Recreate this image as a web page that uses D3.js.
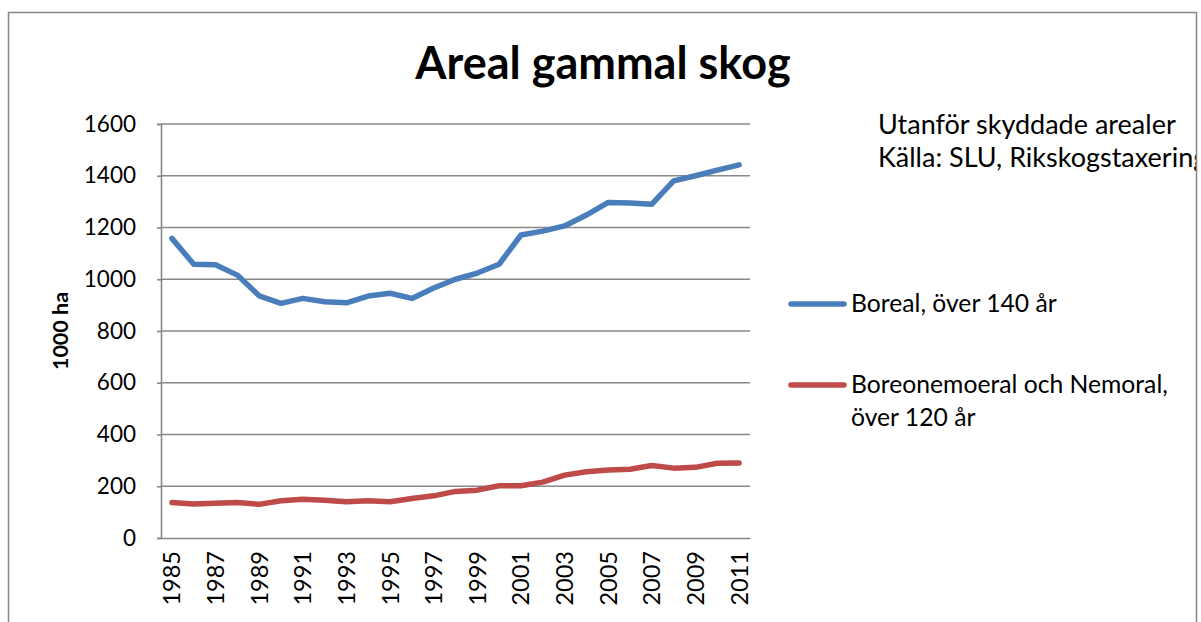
<!DOCTYPE html>
<html><head><meta charset="utf-8">
<script src="https://cdn.jsdelivr.net/npm/d3@7"></script>
<style>
html,body{margin:0;padding:0;background:#fff;}
svg{display:block;}
text{font-family:Lato,"Open Sans",sans-serif;fill:#000;}
</style></head>
<body>
<svg id="c" width="1201" height="622"></svg>
<script>
const years = [1985,1986,1987,1988,1989,1990,1991,1992,1993,1994,1995,1996,1997,1998,1999,2000,2001,2002,2003,2004,2005,2006,2007,2008,2009,2010,2011];
const boreal = [1158,1058,1056,1016,936,907,926,913,909,935,946,926,966,1000,1024,1058,1171,1186,1206,1248,1297,1295,1290,1380,1400,1422,1442];
const boreonemoral = [137,131,134,137,130,144,150,146,140,144,140,153,163,180,185,202,202,216,243,256,263,266,280,270,273,289,290];
const yTicks = [0,200,400,600,800,1000,1200,1400,1600];
const xTickYears = [1985,1987,1989,1991,1993,1995,1997,1999,2001,2003,2005,2007,2009,2011];
const seriesNames = ["Boreal, över 140 år", ["Boreonemoeral och Nemoral,", "över 120 år"]];
const colors = ["#4a7ebb", "#be4b48"];
const titleText = "Areal gammal skog";
const yLabel = "1000 ha";
const notes = ["Utanför skyddade arealer", "Källa: SLU, Rikskogstaxering"];

(function(){
const svg = d3.select("#c");
const W = 1201, H = 622;
const pL = 161, pR = 750, pT = 124, pB = 538;
const FONT = "Lato,'Open Sans',sans-serif";

svg.append("defs").append("clipPath").attr("id","frame")
  .append("rect").attr("x",8).attr("y",12).attr("width",1189).attr("height",H);
const g0 = svg.append("g").attr("clip-path","url(#frame)");

const x = d3.scaleBand().domain(years).range([pL, pR]);
const y = d3.scaleLinear().domain([0,1600]).range([pB, pT]);
const cx = d => x(d) + x.bandwidth()/2;

g0.append("g").selectAll("line").data(yTicks.filter(d=>d>0)).join("line")
  .attr("x1",pL).attr("x2",pR).attr("y1",d=>y(d)).attr("y2",d=>y(d))
  .attr("stroke","#888").attr("stroke-width",1.6);

const yAxis = g0.append("g").attr("transform",`translate(${pL},0)`)
  .call(d3.axisLeft(y).tickValues(yTicks).tickSize(4).tickPadding(21).tickFormat(d3.format("d")));
yAxis.select(".domain").attr("stroke","#888").attr("stroke-width",1.6);
yAxis.selectAll(".tick line").attr("stroke","#888").attr("stroke-width",1.6);
yAxis.selectAll(".tick text").attr("font-size",22.5).attr("font-family",FONT).attr("fill","#000");

const xAxis = g0.append("g").attr("transform",`translate(0,${pB})`)
  .call(d3.axisBottom(x).tickValues(xTickYears).tickSize(0).tickPadding(0));
xAxis.select(".domain").attr("stroke","#888").attr("stroke-width",1.6);
xAxis.selectAll(".tick text")
  .attr("font-size",23.5).attr("font-family",FONT).attr("fill","#000")
  .attr("transform","rotate(-90)")
  .attr("text-anchor","end").attr("x",-13).attr("y",0).attr("dy","0.36em");

const line = d3.line().x((d,i)=>cx(years[i])).y(d=>y(d));
[boreal, boreonemoral].forEach((s,i)=>{
  g0.append("path").datum(s).attr("d",line).attr("fill","none")
    .attr("stroke",colors[i]).attr("stroke-width",5.5)
    .attr("stroke-linejoin","round").attr("stroke-linecap","round");
});

g0.append("text").attr("x",603).attr("y",79).attr("text-anchor","middle")
  .attr("font-size",45).attr("font-weight","bold").text(titleText);

g0.append("text").attr("transform","translate(68,331) rotate(-90)")
  .attr("text-anchor","middle").attr("font-size",21.5).attr("font-weight","bold").text(yLabel);

notes.forEach((t,i)=>{
  g0.append("text").attr("x",878).attr("y",134+i*33).attr("font-size",27).text(t);
});

const legY = [304, 385];
legY.forEach((ly,i)=>{
  g0.append("line").attr("x1",791).attr("x2",844).attr("y1",ly).attr("y2",ly)
    .attr("stroke",colors[i]).attr("stroke-width",5.5).attr("stroke-linecap","round");
  const lines = Array.isArray(seriesNames[i]) ? seriesNames[i] : [seriesNames[i]];
  lines.forEach((t,j)=>{
    g0.append("text").attr("x",851).attr("y",ly+8+j*33).attr("font-size",24.7).text(t);
  });
});

svg.append("path").attr("d",`M8.5,${H} L8.5,12.5 L1196.5,12.5 L1196.5,${H}`)
  .attr("fill","none").attr("stroke","#888").attr("stroke-width",1.5);
})();
</script>
</body></html>
